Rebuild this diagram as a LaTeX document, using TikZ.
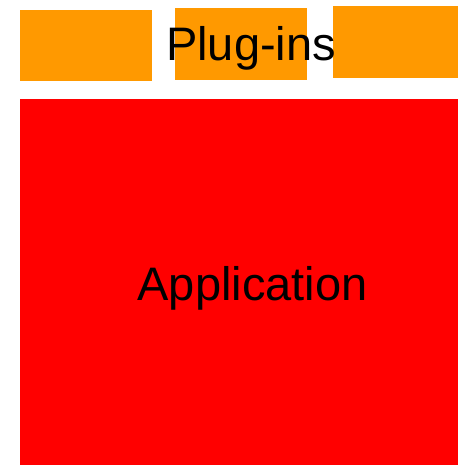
\documentclass[tikz,border=0pt]{standalone}
\usepackage{fontspec}
\setmainfont{Liberation Sans}
\usetikzlibrary{positioning}
\definecolor{pluginorange}{HTML}{FF9900}
\definecolor{apppred}{HTML}{FF0000}

\begin{document}
\begin{tikzpicture}[
    x=1pt, y=-1pt,
    nosep/.style={inner sep=0},
    plugbox/.style={fill=pluginorange, draw=none},
    appbox/.style={fill=apppred, draw=none},
    bigtext/.style={nosep, anchor=base, font=\fontsize{47}{56}\selectfont}]
\useasboundingbox (0,0) rectangle (458,465);
% plug-in boxes
\path[plugbox] (20,10) rectangle (152,81);
\path[plugbox] (175,8) rectangle (307,80);
\path[plugbox] (333,6) rectangle (458,78);
% application block
\path[appbox] (20,99) rectangle (458,465);
\node[bigtext] (plugins) at (251,61) {Plug-ins};
\node[bigtext] (application) at (252.5,300) {Application};
\end{tikzpicture}
\end{document}
